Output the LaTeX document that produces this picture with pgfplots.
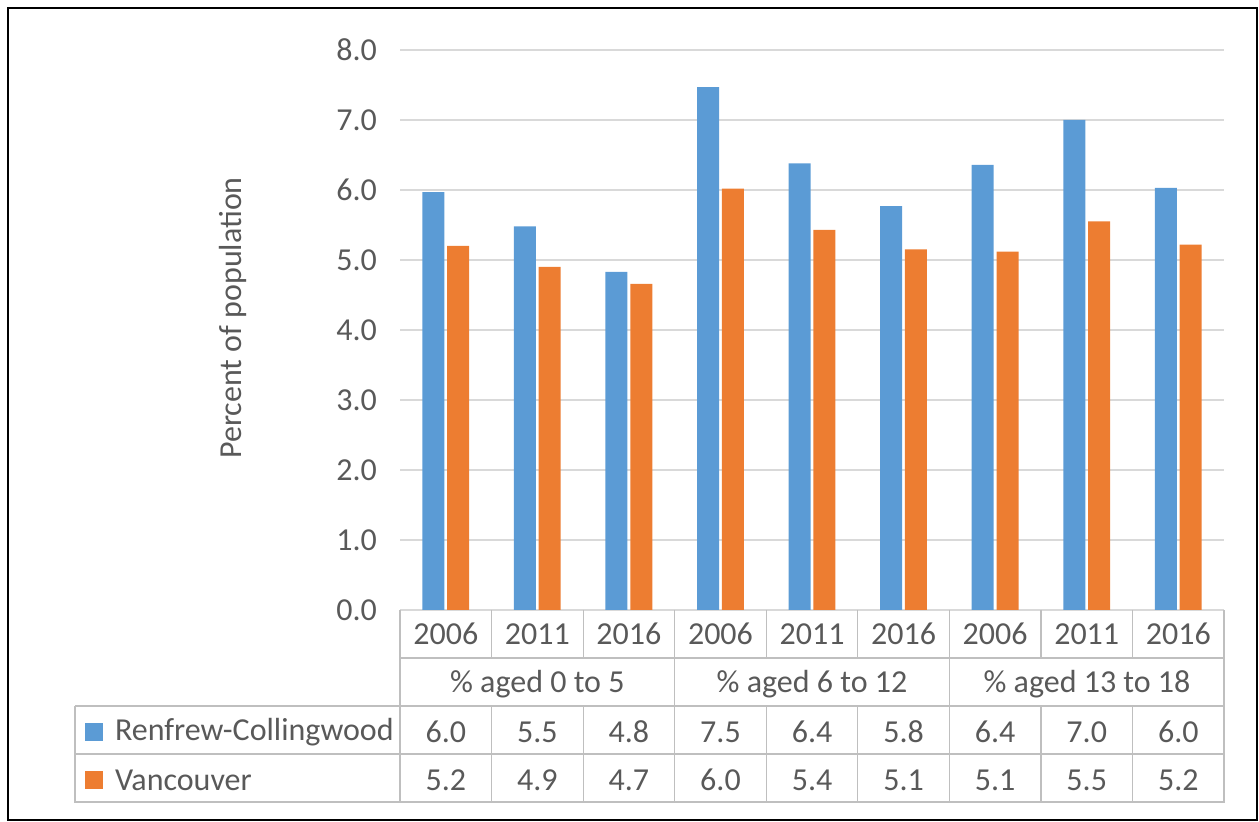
\documentclass[border=0pt]{standalone}
\usepackage{pgfplots}
\pgfplotsset{compat=1.18}
\usepackage{fontspec}
\setmainfont{Carlito}
\definecolor{cb}{HTML}{5B9BD5}
\definecolor{co}{HTML}{ED7D31}
\definecolor{gl}{HTML}{D9D9D9}
\definecolor{tx}{HTML}{595959}
\definecolor{tl}{HTML}{BFBFBF}
\begin{document}
\begin{tikzpicture}[x=0.5pt,y=0.5pt]
\path (0,0) rectangle (1259,822);
\begin{axis}[at={(200pt,106pt)},anchor=south west,scale only axis,width=412pt,height=280pt,
 xmin=-0.5,xmax=8.5,ymin=0,ymax=8,ytick={0,1,...,8},
 yticklabel style={/pgf/number format/fixed,/pgf/number format/fixed zerofill,/pgf/number format/precision=1,font=\fontsize{16}{19}\selectfont,text=tx,xshift=-8pt},
 /pgf/number format/assume math mode=true,
 xtick=\empty, axis line style={draw=none}, tick style={draw=none},
 ymajorgrids, grid style={gl,line width=0.6pt},
 ybar, bar width=11pt, enlargelimits=false, clip=false]
\addplot[fill=cb,draw=none,bar shift=-6.2pt] coordinates {(0,5.97)(1,5.48)(2,4.83)(3,7.47)(4,6.38)(5,5.77)(6,6.36)(7,7.0)(8,6.03)};
\addplot[fill=co,draw=none,bar shift=6.2pt] coordinates {(0,5.2)(1,4.9)(2,4.66)(3,6.02)(4,5.43)(5,5.15)(6,5.12)(7,5.55)(8,5.22)};
\end{axis}
\begin{scope}[shift={(0,411pt)},y=-0.5pt]
\draw[black,line width=0.6pt] (8,8) rectangle (1257,820);
\node[rotate=90,text=tx,font=\fontsize{16}{19}\selectfont] at (233,318) {Percent of population};
\begin{scope}[tl,line width=0.6pt]
\draw (400,610)--(400,802)--(1224,802)--(1224,610);
\draw (400,658)--(1224,658);
\draw (75,706)--(1224,706);
\draw (75,754)--(1224,754);
\draw (75,706)--(75,802)--(400,802);
\foreach \i in {1,2,4,5,7,8} \draw ({400+\i*91.56},610)--({400+\i*91.56},658) ({400+\i*91.56},706)--({400+\i*91.56},802);
\foreach \i in {3,6} \draw ({400+\i*91.56},610)--({400+\i*91.56},802);
\end{scope}
\begin{scope}[every node/.style={text=tx,font=\fontsize{16}{19}\selectfont}]
\foreach \y [count=\i from 0] in {2006,2011,2016,2006,2011,2016,2006,2011,2016}
  \node at ({445.8+\i*91.56},634) {\y};
\node at (537.3,684) {\% aged 0 to 5};
\node at (812,684) {\% aged 6 to 12};
\node at (1087,684) {\% aged 13 to 18};
\foreach \v [count=\i from 0] in {6.0,5.5,4.8,7.5,6.4,5.8,6.4,7.0,6.0}
  \node at ({445.8+\i*91.56},732) {\v};
\foreach \v [count=\i from 0] in {5.2,4.9,4.7,6.0,5.4,5.1,5.1,5.5,5.2}
  \node at ({445.8+\i*91.56},780) {\v};
\fill[cb] (85,723) rectangle (103,741);
\fill[co] (85,771) rectangle (103,789);
\node[anchor=west] at (108,732) {Renfrew-Collingwood};
\node[anchor=west] at (108,780) {Vancouver};
\end{scope}
\end{scope}
\end{tikzpicture}
\end{document}
